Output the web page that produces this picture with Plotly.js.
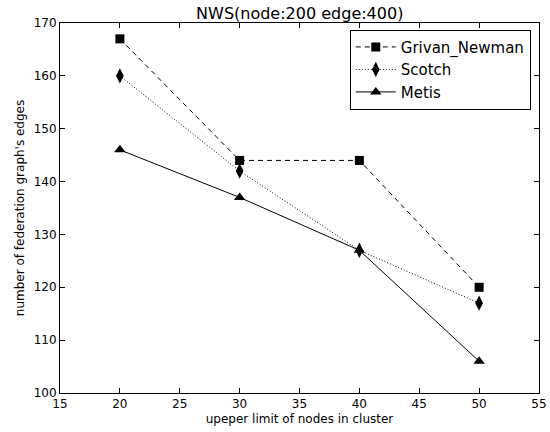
<!DOCTYPE html>
<html>
<head>
<meta charset="utf-8">
<script src="https://cdn.plot.ly/plotly-3.0.1.min.js"></script>
<style>html,body{margin:0;padding:0;background:#fff;}#chart{width:550px;height:432px;}</style>
</head>
<body>
<div id="chart"></div>
<script>
const clusterLimits = [20, 30, 40, 50];
const grivanNewman = [167, 144, 144, 120];
const scotch = [160, 142, 127, 117];
const metis = [146, 137, 127, 106];
const xTicks = [15, 20, 25, 30, 35, 40, 45, 50, 55];
const yTicks = [100, 110, 120, 130, 140, 150, 160, 170];

const font = {family: 'DejaVu Sans, sans-serif', size: 12, color: '#000'};

const traces = [
  {x: clusterLimits, y: grivanNewman, name: 'Grivan_Newman', mode: 'lines+markers', legendgroup: 'a',
   line: {color: '#000', width: 1, dash: '5px,4px'},
   marker: {symbol: 'square', size: 9, color: '#000'}},
  {x: clusterLimits, y: scotch, name: 'Scotch', mode: 'lines+markers', legendgroup: 'b',
   line: {color: '#000', width: 1, dash: '1px,2px'},
   marker: {symbol: 'diamond-tall', size: 11, color: '#000'}},
  {x: clusterLimits, y: metis, name: 'Metis', mode: 'lines+markers', legendgroup: 'c',
   line: {color: '#000', width: 1},
   marker: {symbol: 'triangle-up', size: 10, color: '#000'}}
];

const axisCommon = {
  showgrid: false, zeroline: false, showline: true, linecolor: '#000', linewidth: 1,
  mirror: 'ticks', ticks: 'inside', ticklen: 5, tickcolor: '#000', tickfont: font
};

const layout = {
  width: 550, height: 432,
  margin: {l: 60, r: 11, t: 23, b: 39},
  paper_bgcolor: '#fff', plot_bgcolor: '#fff',
  font: font,
  title: {text: 'NWS(node:200 edge:400)', font: {family: 'DejaVu Sans, sans-serif', size: 16, color: '#000'},
          x: 0.545, xanchor: 'center', yref: 'container', y: 0.97, yanchor: 'middle'},
  xaxis: Object.assign({}, axisCommon, {range: [15, 55], tickvals: xTicks,
    title: {text: 'upeper limit of nodes in cluster', font: font, standoff: 4}}),
  yaxis: Object.assign({}, axisCommon, {range: [100, 170], tickvals: yTicks,
    title: {text: "number of federation graph's edges", font: font, standoff: 6}}),
  legend: {x: 0.605, y: 0.982, xanchor: 'left', yanchor: 'top', bordercolor: '#000', borderwidth: 1,
           bgcolor: '#fff', font: {family: 'DejaVu Sans, sans-serif', size: 15, color: '#000'},
           itemwidth: 40, tracegroupgap: 0}
};

Plotly.newPlot('chart', traces, layout, {displayModeBar: false, staticPlot: true});
</script>
</body>
</html>
